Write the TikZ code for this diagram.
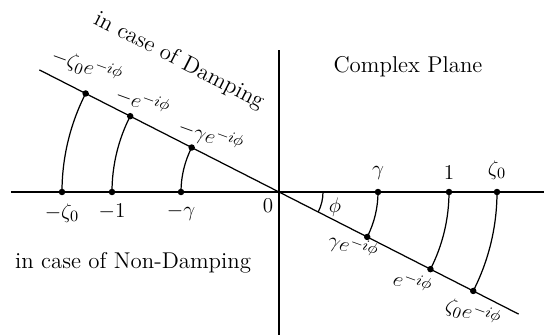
\documentclass[tikz,border=0pt]{standalone}
\usepackage{amsmath}
\usetikzlibrary{positioning}

\begin{document}
\begin{tikzpicture}[font=\fontsize{13}{15}\selectfont, line width=0.7pt, dot/.style={circle,fill,inner sep=1.3pt}, tilt/.style={rotate=-20,inner sep=0pt}]
  \useasboundingbox (-5.58,-2.86) rectangle (5.3,3.84);
  % axes and the turned line
  \coordinate (o) at (0,0);
  \coordinate (xl) at (-5.36,0);
  \coordinate (xr) at (5.3,0);
  \coordinate (yt) at (0,2.84);
  \coordinate (yb) at (0,-2.86);
  \coordinate (dl) at (153:5.38);
  \coordinate (dr) at (-27:5.38);
  \draw (xl) -- (xr);
  \draw (yb) -- (yt);
  \draw (dl) -- (dr);
  \node at (-0.22,-0.27) {$0$};
  % right side
  \node[dot] (g) at (1.98,0) {};
  \node[dot] (one) at (3.4,0) {};
  \node[dot] (z) at (4.36,0) {};
  \node[dot] (ge) at (-27:1.98) {};
  \node[dot] (oe) at (-27:3.4) {};
  \node[dot] (ze) at (-27:4.36) {};
  \draw (g) arc[start angle=0, end angle=-27, radius=1.98];
  \draw (one) arc[start angle=0, end angle=-27, radius=3.4];
  \draw (z) arc[start angle=0, end angle=-27, radius=4.36];
  \node[above=1pt of g] {$\gamma$};
  \node[above=1pt of one] {$1$};
  \node[above=1pt of z] {$\zeta_0$};
  \node[tilt] at (1.48,-1.1) {$\gamma e^{-i\phi}$};
  \node[tilt] at (2.68,-1.8) {$e^{-i\phi}$};
  \node[tilt] at (3.88,-2.42) {$\zeta_0 e^{-i\phi}$};
  % angle
  \draw (0.88,0) arc[start angle=0, end angle=-27, radius=0.88];
  \node at (1.12,-0.3) {$\phi$};
  % left side
  \node[dot] (mg) at (-1.96,0) {};
  \node[dot] (mone) at (-3.34,0) {};
  \node[dot] (mz) at (-4.34,0) {};
  \node[dot] (mge) at (153:1.96) {};
  \node[dot] (moe) at (153:3.34) {};
  \node[dot] (mze) at (153:4.34) {};
  \draw (mg) arc[start angle=180, end angle=153, radius=1.96];
  \draw (mone) arc[start angle=180, end angle=153, radius=3.34];
  \draw (mz) arc[start angle=180, end angle=153, radius=4.34];
  \node[below=1pt of mg] {$-\gamma$};
  \node[below=1pt of mone] {$-1$};
  \node[below=1pt of mz] {$-\zeta_0$};
  \node[tilt] at (-1.36,1.12) {$-\gamma e^{-i\phi}$};
  \node[tilt] at (-2.72,1.82) {$-e^{-i\phi}$};
  \node[tilt] at (-3.84,2.52) {$-\zeta_0 e^{-i\phi}$};
  % texts
  \node[rotate=-27] at (-2.0,2.62) {in case of Damping};
  \node at (2.58,2.5) {Complex Plane};
  \node at (-2.92,-1.42) {in case of Non-Damping};
\end{tikzpicture}
\end{document}
